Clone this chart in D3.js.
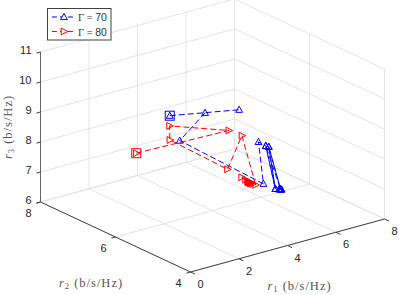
<!DOCTYPE html>
<html>
<head>
<meta charset="utf-8">
<script src="https://cdn.jsdelivr.net/npm/d3@7"></script>
<style>
html, body { margin: 0; padding: 0; background: #fff; }
svg { display: block; }
text { font-family: "Liberation Sans", sans-serif; }
.math { font-family: "Liberation Serif", serif; }
</style>
</head>
<body>
<svg id="chart" width="399" height="295"></svg>
<script>
// tick labels
const r1Ticks = [0, 2, 4, 6, 8]
const r2Ticks = [4, 6, 8]
const r3Ticks = [6, 7, 8, 9, 10, 11]

// series values
const g70R1 = [3.49, 6.63, 5.07, 3.70, 5.14, 5.34, 5.64, 5.17, 5.67, 5.28, 5.64, 5.17, 5.67, 5.28, 5.26, 5.30, 5.24, 5.27, 5.29]
const g70R2 = [6.81, 6.99, 6.89, 6.68, 5.38, 5.64, 5.64, 5.08, 5.58, 5.01, 5.64, 5.08, 5.58, 5.01, 5.02, 5.00, 5.03, 4.99, 5.03]
const g70R3 = [8.8, 8.2, 8.5, 8.0, 7.0, 8.2, 8.0, 7.0, 8.0, 7.0, 8.0, 7.0, 8.0, 7.0, 7.0, 7.0, 7.0, 7.0, 7.0]
const g70Breaks = [2] // the dashed line starts over at these points

const g80R1 = [2.20, 5.54, 3.42, 3.48, 4.68, 5.26, 4.88, 4.94, 4.90, 4.86, 4.86, 4.83, 4.85, 4.87, 4.84, 4.88, 4.85, 4.90, 4.82, 4.87]
const g80R2 = [6.87, 6.56, 6.77, 6.80, 6.04, 6.03, 5.42, 5.83, 5.70, 5.62, 5.57, 5.52, 5.48, 5.60, 5.55, 5.53, 5.60, 5.58, 5.58, 5.56]
const g80R3 = [7.8, 8.0, 8.5, 8.0, 7.2, 8.2, 7.0, 7.0, 7.0, 7.0, 7.0, 7.0, 7.0, 7.0, 7.0, 7.0, 7.0, 7.0, 7.0, 7.0]

const svg = d3.select("#chart")

// orthographic view: each axis is a scale giving a screen offset
const origin = { x: 190.5, y: 272 } // r1=0, r2=4, r3=6
const r1X = d3.scaleLinear().domain([0, 8]).range([0, 194])
const r1Y = d3.scaleLinear().domain([0, 8]).range([0, -53])
const r2X = d3.scaleLinear().domain([4, 8]).range([0, -150])
const r2Y = d3.scaleLinear().domain([4, 8]).range([0, -70])
const r3Y = d3.scaleLinear().domain([6, 11]).range([0, -150])

const project = (a, b, c) => [
    origin.x + r1X(a) + r2X(b),
    origin.y + r1Y(a) + r2Y(b) + r3Y(c)
]

const gridColor = "#e4e4e4"
const axisColor = "#404040"

function seg(g, p, q, color, width) {
    g.append("line")
        .attr("x1", p[0]).attr("y1", p[1])
        .attr("x2", q[0]).attr("y2", q[1])
        .attr("stroke", color)
        .attr("stroke-width", width)
}

// grid on floor and the two back walls
const grid = svg.append("g")
r1Ticks.forEach(t => {
    seg(grid, project(t, 4, 6), project(t, 8, 6), gridColor, 1)
    seg(grid, project(t, 8, 6), project(t, 8, 11), gridColor, 1)
})
r2Ticks.forEach(t => {
    seg(grid, project(0, t, 6), project(8, t, 6), gridColor, 1)
    seg(grid, project(8, t, 6), project(8, t, 11), gridColor, 1)
})
r3Ticks.forEach(t => {
    seg(grid, project(0, 8, t), project(8, 8, t), gridColor, 1)
    seg(grid, project(8, 8, t), project(8, 4, t), gridColor, 1)
})

// axes
const axes = svg.append("g")
seg(axes, project(0, 8, 6), project(0, 8, 11), "#666", 1)
seg(axes, project(0, 4, 6), project(0, 8, 6), axisColor, 1)
seg(axes, project(0, 4, 6), project(8, 4, 6), axisColor, 1)

r3Ticks.forEach(t => seg(axes, project(0, 8, t), project(-0.17, 8, t), axisColor, 1))
r2Ticks.forEach(t => seg(axes, project(0, t, 6), project(-0.17, t, 6), axisColor, 1))
r1Ticks.forEach(t => seg(axes, project(t, 4, 6), project(t, 3.88, 6), axisColor, 1))

function tickLabel(x, y, s, anchor) {
    svg.append("text")
        .attr("x", x).attr("y", y)
        .attr("text-anchor", anchor)
        .attr("font-size", 11)
        .attr("fill", "#262626")
        .text(s)
}

r3Ticks.forEach(t => {
    const p = project(0, 8, t)
    tickLabel(p[0] - 9, p[1] + 2, t, "end")
})
r2Ticks.forEach(t => {
    const p = project(0, t, 6)
    tickLabel(p[0] - 12, p[1] + 15, t, "middle")
})
r1Ticks.forEach(t => {
    const p = project(t, 4, 6)
    tickLabel(p[0] + 10, p[1] + 16, t, "middle")
})

function axisLabel(sub, transform) {
    const t = svg.append("text")
        .attr("class", "math")
        .attr("transform", transform)
        .attr("text-anchor", "middle")
        .attr("font-size", 12.5)
        .attr("letter-spacing", 1)
        .attr("fill", "#555")
    t.append("tspan").attr("font-style", "italic").text("r")
    t.append("tspan").attr("font-size", 8.5).attr("dy", 2).text(sub)
    t.append("tspan").attr("dy", -2).text(" (b/s/Hz)")
}

axisLabel("1", "translate(299.5,290)")
axisLabel("2", "translate(91,287)")
axisLabel("3", "rotate(-90) translate(-127,12)")

// series
const lineGen = d3.line()

function trianglePath(dir) {
    return dir === "up" ? "M-3.4,2.6L3.4,2.6L0,-3.6Z" : "M-2.8,-3.4L-2.8,3.4L3.8,0Z"
}

function drawSeries(xs, ys, zs, color, dir, breaks) {
    const pts = xs.map((d, i) => project(d, ys[i], zs[i]))
    const starts = [0, ...breaks, pts.length]
    const g = svg.append("g")
    d3.pairs(starts).forEach(([a, b]) => {
        g.append("path")
            .attr("d", lineGen(pts.slice(a, b)))
            .attr("fill", "none")
            .attr("stroke", color)
            .attr("stroke-width", 1)
            .attr("stroke-dasharray", "6 3")
    })
    g.selectAll(".marker")
        .data(pts)
        .join("path")
        .attr("class", "marker")
        .attr("transform", d => `translate(${d[0]},${d[1]})`)
        .attr("d", trianglePath(dir))
        .attr("fill", "none")
        .attr("stroke", color)
        .attr("stroke-width", 1)
    // square on the first point
    g.append("rect")
        .attr("x", pts[0][0] - 4.5)
        .attr("y", pts[0][1] - 4.5)
        .attr("width", 9)
        .attr("height", 9)
        .attr("fill", "none")
        .attr("stroke", color)
        .attr("stroke-width", 1)
}

drawSeries(g70R1, g70R2, g70R3, "#0000ff", "up", g70Breaks)
drawSeries(g80R1, g80R2, g80R3, "#ff0000", "right", [])

// legend
const legend = svg.append("g")
legend.append("rect")
    .attr("x", 47.5).attr("y", 8.5)
    .attr("width", 63.5).attr("height", 31.5)
    .attr("fill", "#fff")
    .attr("stroke", "#404040")
    .attr("stroke-width", 1)

const legendRows = [
    { color: "#0000ff", dir: "up", value: "70", y: 17 },
    { color: "#ff0000", dir: "right", value: "80", y: 31.5 }
]

legendRows.forEach(d => {
    legend.append("line")
        .attr("x1", 52).attr("x2", 76)
        .attr("y1", d.y).attr("y2", d.y)
        .attr("stroke", d.color)
        .attr("stroke-dasharray", "5 3")
    legend.append("path")
        .attr("transform", `translate(64,${d.y})`)
        .attr("d", trianglePath(d.dir))
        .attr("fill", "#fff")
        .attr("stroke", d.color)
    const t = legend.append("text")
        .attr("x", 78).attr("y", d.y + 4)
        .attr("font-size", 10.5)
        .attr("fill", "#333")
    t.append("tspan").attr("class", "math").text("Γ = ")
    t.append("tspan").text(d.value)
})
</script>
</body>
</html>
